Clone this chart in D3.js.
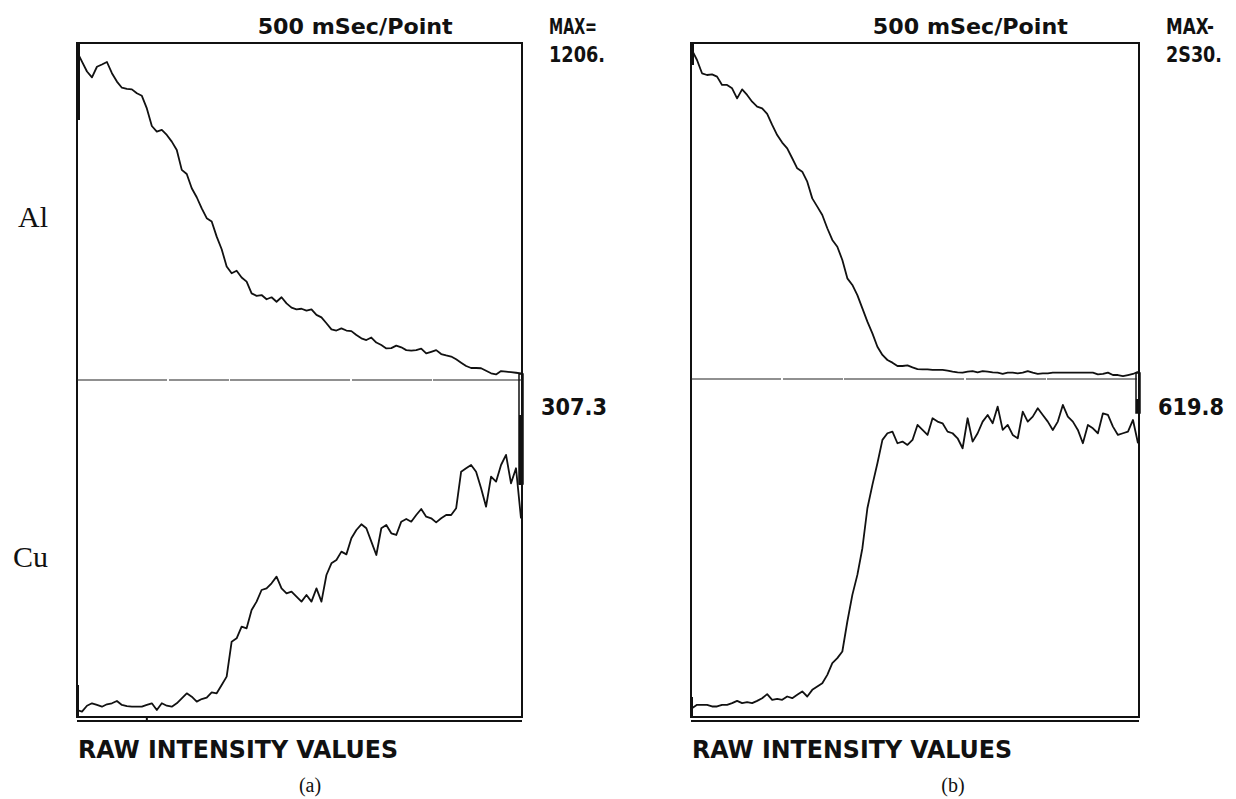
<!DOCTYPE html>
<html>
<head>
<meta charset="utf-8">
<script src="https://cdn.jsdelivr.net/npm/d3@7"></script>
<style>
  body { margin: 0; background: #fff; }
  svg { display: block; }
  .dos { font-family: "DejaVu Sans Condensed", "Liberation Sans Narrow", sans-serif; font-weight: bold; fill: #111; }
  .serif { font-family: "Liberation Serif", "Times New Roman", serif; fill: #111; }
</style>
</head>
<body>
<svg id="chart"></svg>
<script>
const width = 1236
const height = 799

// Raw intensity readings, 500 mSec per point
const alA = [1175, 1139, 1104, 1083, 1121, 1129, 1138, 1098, 1068, 1046,
  1042, 1040, 1026, 1017, 972, 909, 889, 895, 877, 853,
  823, 752, 737, 686, 654, 614, 579, 567, 513, 468,
  406, 382, 391, 367, 352, 310, 301, 304, 289, 296,
  280, 296, 274, 259, 253, 255, 248, 253, 233, 224,
  203, 181, 177, 185, 177, 175, 161, 149, 143, 152,
  134, 125, 113, 114, 123, 117, 107, 105, 107, 112,
  95, 101, 107, 93, 88, 84, 74, 62, 50, 43,
  43, 42, 33, 24, 20, 32, 30, 28, 26, 24]

const cuA = [6.4, 4.9, 10.3, 12.5, 11.0, 9.4, 11.6, 12.5, 14.6, 11.0,
  10.0, 9.4, 9.4, 9.4, 11.0, 12.5, 6.4, 12.5, 10.3, 9.4,
  12.5, 17.0, 21.6, 18.5, 14.0, 16.4, 17.6, 22.5, 21.6, 29.2,
  36.8, 68.7, 71.7, 82.4, 80.9, 97.6, 105.2, 115.8, 117.3, 121.9,
  128.0, 117.3, 112.8, 114.3, 109.7, 105.2, 111.3, 105.2, 117.3, 105.2,
  129.5, 140.1, 143.2, 150.8, 148.3, 163.0, 170.5, 175.7, 172.1, 159.9,
  147.7, 172.1, 175.1, 167.5, 166.0, 178.1, 180.6, 178.1, 184.2, 189.7,
  182.7, 181.2, 177.5, 181.2, 184.2, 184.2, 190.3, 223.7, 226.8, 229.8,
  223.7, 208.5, 191.8, 219.2, 214.6, 229.8, 239.0, 213.1, 226.8, 181.2]

const alB = [2477, 2402, 2302, 2289, 2294, 2277, 2214, 2214, 2189, 2113,
  2181, 2139, 2088, 2051, 2038, 1996, 1913, 1837, 1780, 1737,
  1662, 1586, 1561, 1486, 1360, 1298, 1235, 1135, 1047, 996,
  896, 758, 708, 632, 532, 432, 344, 243, 181, 143,
  123, 98, 98, 103, 88, 75, 73, 73, 68, 68,
  68, 63, 55, 50, 48, 55, 60, 50, 60, 55,
  50, 48, 38, 48, 48, 43, 48, 60, 48, 38,
  43, 43, 48, 48, 48, 48, 48, 48, 48, 48,
  48, 35, 38, 48, 30, 30, 22, 30, 38, 55]

const cuB = [16.2, 22.3, 22.3, 22.3, 19.3, 19.3, 22.3, 22.3, 25.4, 29.6,
  25.4, 27.2, 25.4, 29.6, 34.5, 41.9, 31.5, 33.3, 31.5, 37.6,
  34.5, 40.6, 46.8, 37.6, 49.8, 55.9, 62.0, 77.3, 98.7, 107.9,
  120.1, 175.1, 223.9, 260.6, 309.5, 382.8, 425.6, 465.3, 508.1, 520.3,
  523.3, 502.0, 505.0, 498.9, 508.1, 535.6, 526.4, 517.2, 547.8, 541.7,
  538.6, 523.3, 520.3, 511.1, 492.8, 547.8, 505.0, 520.3, 541.7, 553.9,
  538.6, 569.2, 526.4, 535.6, 517.2, 511.1, 560.0, 541.7, 550.8, 566.1,
  553.9, 541.7, 526.4, 541.7, 572.2, 550.8, 541.7, 526.4, 502.0, 535.6,
  529.4, 520.3, 556.9, 553.9, 532.5, 517.2, 520.3, 523.3, 544.7, 502.0]

const panelNames = ["(a)", "(b)"]
const maxLabels = ["1206.", "2S30."]
const midLabels = ["307.3", "619.8"]
const maxHeads = ["MAX=", "MAX-"]
const alMax = [1206, 2530]
const cuMax = [307.3, 619.8]

const panels = [
  { left: 77, right: 522, top: 43, mid: 380, bottom: 717, al: alA, cu: cuA },
  { left: 691, right: 1139, top: 43, mid: 379, bottom: 717, al: alB, cu: cuB }
]

const svg = d3.select("#chart")
  .attr("width", width)
  .attr("height", height)

svg.append("rect").attr("width", width).attr("height", height).attr("fill", "#fff")

panels.forEach(function(p, i) {
  const g = svg.append("g")
  const n = p.al.length
  const xOff = i === 0 ? 0 : 1

  const x = d3.scaleLinear().domain([0, n - 1]).range([p.left + xOff, p.right - 1])
  const yAl = d3.scaleLinear().domain([0, alMax[i]]).range([p.mid, p.top])
  const yCu = d3.scaleLinear().domain([0, cuMax[i]]).range([p.bottom, p.mid])

  // frame
  g.append("rect")
    .attr("x", p.left).attr("y", p.top)
    .attr("width", p.right - p.left).attr("height", p.bottom - p.top)
    .attr("fill", "none").attr("stroke", "#111").attr("stroke-width", 2)

  // double baseline
  g.append("line")
    .attr("x1", p.left).attr("x2", p.right)
    .attr("y1", p.bottom + 4).attr("y2", p.bottom + 4)
    .attr("stroke", "#111").attr("stroke-width", 2)

  // divider between the two traces
  g.append("line")
    .attr("x1", p.left).attr("x2", p.right)
    .attr("y1", p.mid).attr("y2", p.mid)
    .attr("stroke", "#222").attr("stroke-width", 1.2)
    .attr("stroke-dasharray", "90,2,60,1,120,2,80,1")

  // thick marker bits at the start and the end of the scan
  g.append("rect")
    .attr("x", p.left - 1).attr("y", p.top)
    .attr("width", 4).attr("height", i === 0 ? 77 : 22)
    .attr("fill", "#111")
  g.append("rect")
    .attr("x", p.left - 1).attr("y", p.bottom - (i === 0 ? 32 : 20))
    .attr("width", 3).attr("height", i === 0 ? 32 : 20)
    .attr("fill", "#111")
  g.append("rect")
    .attr("x", p.right - 3).attr("y", p.mid - 6)
    .attr("width", 4).attr("height", i === 0 ? 110 : 40)
    .attr("fill", "none").attr("stroke", "#111").attr("stroke-width", 1.5)
  g.append("rect")
    .attr("x", p.right - 3).attr("y", p.mid + (i === 0 ? 35 : 20))
    .attr("width", 4).attr("height", i === 0 ? 70 : 14)
    .attr("fill", "#111")

  if (i === 0) {
    g.append("line")
      .attr("x1", x(14)).attr("x2", x(14))
      .attr("y1", p.bottom).attr("y2", p.bottom + 5)
      .attr("stroke", "#111").attr("stroke-width", 2)
  }

  const line = function(y) {
    return d3.line()
      .x(function(d, k) { return x(k) })
      .y(function(d) { return y(d) })
  }

  g.append("path")
    .datum(p.al)
    .attr("d", line(yAl))
    .attr("fill", "none").attr("stroke", "#111").attr("stroke-width", 1.8)
    .attr("stroke-linejoin", "round")

  g.append("path")
    .datum(p.cu)
    .attr("d", line(yCu))
    .attr("fill", "none").attr("stroke", "#111").attr("stroke-width", 1.8)
    .attr("stroke-linejoin", "round")

  // header texts
  const pw = p.right - p.left
  g.append("text").attr("class", "dos")
    .attr("x", p.left + pw * 0.406).attr("y", 34)
    .attr("font-size", 22)
    .attr("textLength", 195).attr("lengthAdjust", "spacingAndGlyphs")
    .text("500 mSec/Point")
  g.append("text").attr("class", "dos")
    .attr("x", p.right + 27).attr("y", 34)
    .attr("font-size", 22)
    .attr("textLength", 48).attr("lengthAdjust", "spacingAndGlyphs")
    .text(maxHeads[i])
  g.append("text").attr("class", "dos")
    .attr("x", p.right + 27).attr("y", 62)
    .attr("font-size", 22)
    .attr("textLength", 56).attr("lengthAdjust", "spacingAndGlyphs")
    .text(maxLabels[i])
  g.append("text").attr("class", "dos")
    .attr("x", p.right + 19).attr("y", 415)
    .attr("font-size", 23)
    .attr("textLength", 66).attr("lengthAdjust", "spacingAndGlyphs")
    .text(midLabels[i])
  g.append("text").attr("class", "dos")
    .attr("x", p.left + 1).attr("y", 758)
    .attr("font-size", 25)
    .attr("textLength", 320).attr("lengthAdjust", "spacingAndGlyphs")
    .text("RAW INTENSITY VALUES")
  g.append("text").attr("class", "serif")
    .attr("x", i === 0 ? 310 : 953).attr("y", 792)
    .attr("text-anchor", "middle")
    .attr("font-size", 20)
    .text(panelNames[i])
})

// element labels on the left
svg.append("text").attr("class", "serif")
  .attr("x", 48).attr("y", 227).attr("text-anchor", "end")
  .attr("font-size", 30).text("Al")
svg.append("text").attr("class", "serif")
  .attr("x", 48).attr("y", 567).attr("text-anchor", "end")
  .attr("font-size", 30).text("Cu")
</script>
</body>
</html>
